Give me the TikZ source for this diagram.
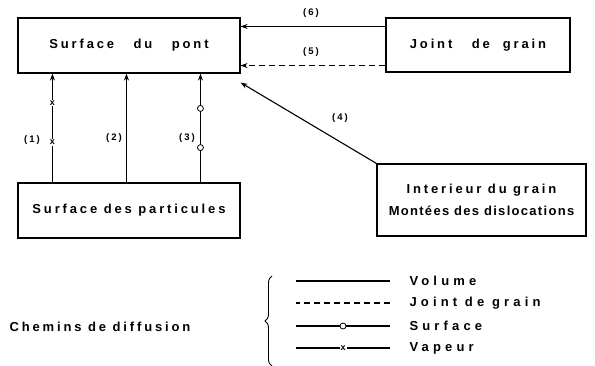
\documentclass[tikz,border=0pt]{standalone}
\usepackage{fontspec}
\setmainfont{Liberation Sans}[LetterSpace=22]
\usetikzlibrary{arrows.meta, positioning, decorations.pathreplacing}

\begin{document}
\begin{tikzpicture}[x=1pt, y=-1pt, font=\bfseries\fontsize{13}{15}\selectfont,
    box/.style={rectangle, draw, line width=1.1pt, minimum width=222pt, minimum height=55pt, align=center},
    flow/.style={line width=1.1pt, -{Stealth[length=7pt, width=5pt]}},
    joindash/.style={dash pattern=on 6pt off 4pt},
    num/.style={font=\bfseries\fontsize{9.5}{11}\selectfont},
    legend/.style={anchor=west, font=\bfseries\fontsize{13}{15}\selectfont\addfontfeature{LetterSpace=32}},
    xmark/.style={fill=white, inner sep=1pt, font=\bfseries\fontsize{9}{9}\selectfont},
    omark/.style={circle, draw, line width=0.8pt, fill=white, inner sep=0pt, minimum size=6pt}]
    \useasboundingbox (0,0) rectangle (595,365);

    % boxes
    \node[box] (pont) at (129,45.5) {Surface\quad\ du\quad\ pont};
    \node[box, minimum width=184pt, minimum height=54pt] (joint) at (478,45) {Joint\quad\ de\quad grain};
    \node[box] (part) at (129,210.5) {Surface des particules};
    \node[box, minimum width=209pt, minimum height=72pt] (inter) at (481.5,200) {Interieur\ du\ grain\\[7pt]\addfontfeature{LetterSpace=10}Montées des dislocations};

    % chemins
    \draw[flow] ([xshift=35pt]part.north west) -- node[xmark, pos=0.37] {x} node[xmark, pos=0.73] {x} ([xshift=35pt]pont.south west);
    \draw[flow] ([xshift=109pt]part.north west) -- ([xshift=109pt]pont.south west);
    \draw[flow] ([xshift=183pt]part.north west) -- node[omark, pos=0.32] {} node[omark, pos=0.68] {} ([xshift=183pt]pont.south west);
    \draw[flow] (inter.north west) -- ([yshift=-9pt]pont.south east);
    \draw[flow, joindash] ([yshift=7pt]joint.south west) coordinate (j5) -- (pont.east |- j5);
    \draw[flow] ([yshift=-9pt]joint.north west) coordinate (j6) -- (pont.east |- j6);

    \node[num] (n1) at (32,140) {(1)};
    \node[num] (n2) at (114,138) {(2)};
    \node[num] (n3) at (187,138) {(3)};
    \node[num] (n4) at (340,118) {(4)};
    \node[num] (n5) at (311,52) {(5)};
    \node[num] (n6) at (311,13) {(6)};

    % legende
    \node (chem) at (100,327) {Chemins de diffusion};
    \draw[line width=0.9pt, decorate, decoration={brace, amplitude=7pt}] (272,366) -- (272,276);
    \node[legend] (lvol) at (406,281) {Volume};
    \node[legend] (ljoint) at (406,303) {Joint de\ grain};
    \node[legend] (lsurf) at (406,326) {Surface};
    \node[legend] (lvap) at (406,348) {Vapeur};
    \draw[line width=1.1pt] ([xshift=-16pt]lvol.west) -- ++(-94,0);
    \draw[line width=1.1pt, joindash] ([xshift=-16pt]ljoint.west) -- ++(-94,0);
    \draw[line width=1.1pt] ([xshift=-16pt]lsurf.west) -- node[omark] {} ++(-94,0);
    \draw[line width=1.1pt] ([xshift=-16pt]lvap.west) -- node[xmark] {x} ++(-94,0);
\end{tikzpicture}
\end{document}
